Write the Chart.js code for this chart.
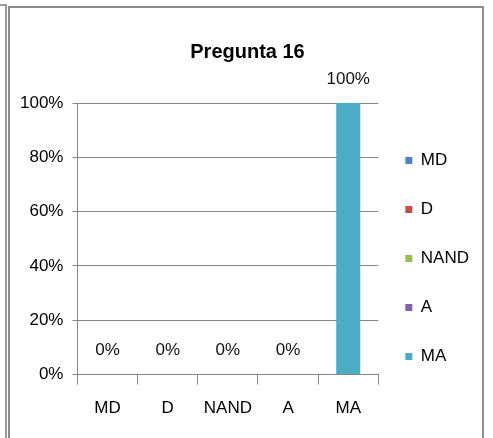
<!DOCTYPE html>
<html>
<head>
<meta charset="utf-8">
<script src="https://cdn.jsdelivr.net/npm/chart.js@4.4.0/dist/chart.umd.min.js"></script>
<style>
  body { margin: 0; background: #fff; }
  #caja { position: relative; width: 493px; height: 438px; overflow: hidden; }
  #grafico { position: absolute; left: 0; top: 0; }
  .borde_ext { position: absolute; left: 0; top: 4px; width: 5px; height: 440px;
    border-top: 2px solid #9a9a9a; border-right: 2px solid #9a9a9a; }
  .borde_int { position: absolute; left: 8px; top: 6px; width: 472px; height: 440px;
    border: 2px solid #8c8c8c; border-bottom: none; }
</style>
</head>
<body>
<div id="caja">
  <div class="borde_ext"></div>
  <div class="borde_int"></div>
  <canvas id="grafico" width="493" height="438"></canvas>
</div>
<script>
const categorias = ["MD", "D", "NAND", "A", "MA"];
const porcentajes = [0, 0, 0, 0, 1];
const colores = ["#4F81BD", "#C0504D", "#9BBB59", "#8064A2", "#4BACC6"];
const marcasY = [0, 0.2, 0.4, 0.6, 0.8, 1];

const fuente = "'Liberation Sans Narrow', 'Arial Narrow', 'Liberation Sans', sans-serif";
const gris = "#868686";

//etiquetas de valor encima de cada barra
const etiquetasValor = {
  id: "etiquetasValor",
  afterDatasetsDraw(chart) {
    const ctx = chart.ctx;
    const meta = chart.getDatasetMeta(0);
    ctx.save();
    ctx.font = "17px " + fuente;
    ctx.fillStyle = "#111";
    ctx.textAlign = "center";
    ctx.textBaseline = "middle";
    meta.data.forEach((barra, i) => {
      ctx.fillText(Math.round(porcentajes[i] * 100) + "%", barra.x, barra.y - 24);
    });
    ctx.restore();
  },
};

//acerca un poco la leyenda al area del grafico
const moverLeyenda = {
  id: "moverLeyenda",
  afterLayout(chart) {
    chart.legend.left -= 5;
    chart.legend.right -= 5;
  },
};

new Chart(document.getElementById("grafico"), {
  type: "bar",
  data: {
    labels: categorias,
    datasets: [
      {
        label: "Pregunta 16",
        data: porcentajes,
        backgroundColor: colores,
        categoryPercentage: 1,
        barPercentage: 0.4,
      },
    ],
  },
  options: {
    responsive: false,
    animation: false,
    layout: {
      padding: { left: 11, right: 9, top: 0, bottom: 5 },
    },
    plugins: {
      title: {
        display: true,
        text: "Pregunta 16",
        color: "#000",
        font: { family: fuente, size: 20, weight: "bold" },
        padding: { top: 40, bottom: 39 },
      },
      legend: {
        position: "right",
        // titulo vacio solo para bajar el bloque de la leyenda
        title: { display: true, text: " ", font: { size: 10 }, padding: 36 },
        labels: {
          boxWidth: 7,
          boxHeight: 7,
          padding: 32,
          color: "#000",
          font: { family: fuente, size: 17 },
          generateLabels: (chart) =>
            categorias.map((c, i) => ({
              text: c,
              fillStyle: colores[i],
              strokeStyle: colores[i],
              fontColor: "#000",
              lineWidth: 0,
              index: i,
            })),
        },
      },
      tooltip: { enabled: false },
    },
    scales: {
      x: {
        grid: {
          display: true,
          drawOnChartArea: false,
          tickLength: 10,
          color: gris,
        },
        border: { display: true, color: gris },
        ticks: {
          color: "#000",
          padding: 14,
          maxRotation: 0,
          autoSkip: false,
          font: { family: fuente, size: 17 },
        },
      },
      y: {
        min: 0,
        max: 1,
        afterBuildTicks: (eje) => {
          eje.ticks = marcasY.map((v) => ({ value: v }));
        },
        grid: { color: gris, tickLength: 5 },
        border: { display: true, color: gris },
        ticks: {
          color: "#000",
          padding: 9,
          font: { family: fuente, size: 17 },
          callback: (v) => Math.round(v * 100) + "%",
        },
      },
    },
  },
  plugins: [etiquetasValor, moverLeyenda],
});
</script>
</body>
</html>
